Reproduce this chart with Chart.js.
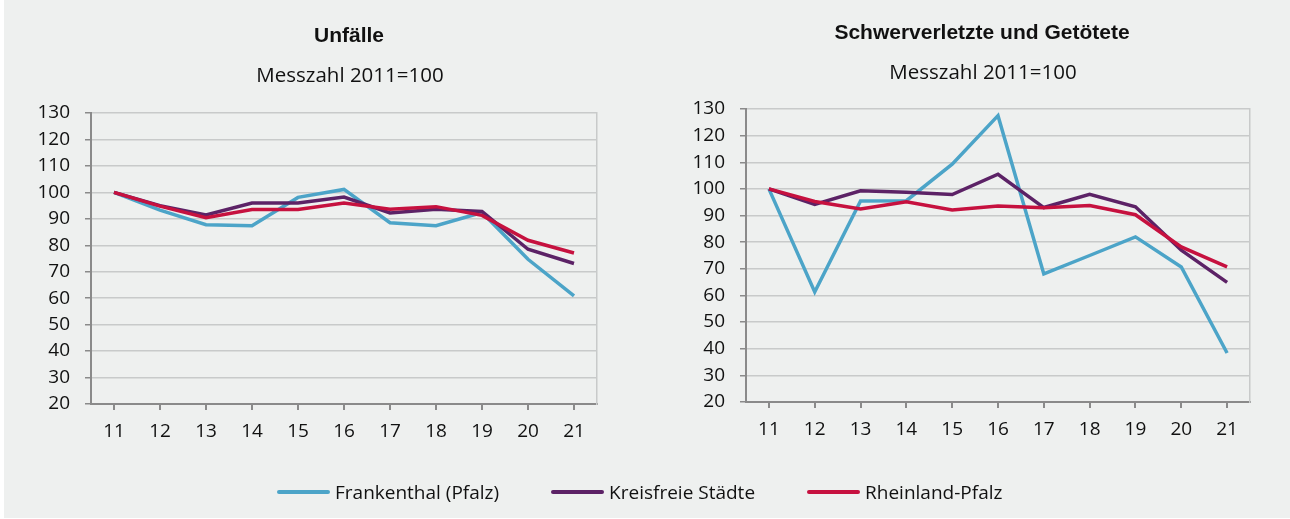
<!DOCTYPE html>
<html lang="de">
<head>
    <meta charset="UTF-8">
    <title>Unfälle / Schwerverletzte und Getötete</title>
    <script src="https://cdn.jsdelivr.net/npm/chart.js"></script>
    <style>
        body { margin: 0; background: #fff; }
        #box { position: absolute; left: 4px; top: 0; width: 1286px; height: 518px; background: #eef0ef; }
        canvas { position: absolute; top: 0; }
        .title { position: absolute; font-family: "Liberation Sans", Arial, sans-serif; font-weight: bold; font-size: 21px; color: #111; transform: translateX(-50%); white-space: nowrap; }
        .sub { position: absolute; font-family: "Open Sans", sans-serif; font-size: 20.5px; color: #111; transform: translateX(-50%); white-space: nowrap; }
        #legend { position: absolute; left: 277px; top: 479px; display: flex; align-items: center; font-family: "Open Sans", sans-serif; font-size: 19px; color: #111; }
        #legend span.sw { display: inline-block; width: 53px; height: 4px; border-radius: 2px; margin-right: 5px; }
        #legend .item { display: flex; align-items: center; margin-right: 52px; }
    </style>
</head>
<body>
<div id="box"></div>
<canvas id="left" width="645" height="519" style="left:0"></canvas>
<canvas id="right" width="645" height="519" style="left:645px"></canvas>
<div class="title" style="left:349px; top:23px">Unfälle</div>
<div class="sub" style="left:350px; top:60px">Messzahl 2011=100</div>
<div class="title" style="left:982px; top:20px">Schwerverletzte und Getötete</div>
<div class="sub" style="left:983px; top:57px">Messzahl 2011=100</div>
<div id="legend"></div>
<script>
    const years = ['11', '12', '13', '14', '15', '16', '17', '18', '19', '20', '21'];
    const seriesNames = ['Frankenthal (Pfalz)', 'Kreisfreie Städte', 'Rheinland-Pfalz'];
    const seriesColors = ['#4ca4c8', '#5c2266', '#c6113f'];

    // Unfälle
    const unfFrankenthal = [100, 93.3, 87.8, 87.4, 98.1, 101.1, 88.5, 87.4, 92.4, 74.7, 60.9];
    const unfKreisfrei   = [100, 95.0, 91.5, 96.0, 96.0, 98.2, 92.2, 93.6, 92.8, 78.5, 73.1];
    const unfRlp         = [100, 94.8, 90.4, 93.5, 93.5, 96.0, 93.6, 94.6, 91.3, 81.9, 77.1];

    // Schwerverletzte und Getötete
    const svgFrankenthal = [100, 61.3, 95.5, 95.6, 109.3, 127.5, 68.1, 75.0, 82.0, 70.7, 38.4];
    const svgKreisfrei   = [100, 94.2, 99.3, 98.7, 97.9, 105.5, 93.0, 98.0, 93.3, 77.0, 64.9];
    const svgRlp         = [100, 95.3, 92.5, 95.2, 92.1, 93.6, 92.9, 93.8, 90.3, 78.2, 70.7];

    const yMin = 20, yMax = 130, yStep = 10;

    const axisGray = '#8a8a8a';
    const gridGray = '#c8caca';
    const tickFont = { family: 'Open Sans', size: 19 };

    function makeChart(id, values, pad) {
        const datasets = values.map((v, i) => ({
            label: seriesNames[i],
            data: v,
            borderColor: seriesColors[i],
            backgroundColor: seriesColors[i],
            borderWidth: 3.5,
            pointRadius: 0,
            tension: 0
        })).reverse();

        return new Chart(document.getElementById(id), {
            type: 'line',
            data: { labels: years, datasets: datasets },
            options: {
                responsive: false,
                animation: false,
                layout: { padding: pad },
                plugins: { legend: { display: false }, tooltip: { enabled: false } },
                scales: {
                    x: {
                        offset: true,
                        afterFit: s => { s.height = 40; },
                        grid: { drawOnChartArea: false, drawTicks: true, tickLength: 6, tickColor: axisGray, lineWidth: 2 },
                        border: { color: axisGray, width: 2 },
                        ticks: { color: '#111', font: tickFont, padding: 10, maxRotation: 0 }
                    },
                    y: {
                        min: yMin,
                        max: yMax,
                        afterFit: s => { s.width = 60; },
                        grid: { color: gridGray, lineWidth: 1.5, tickLength: 6, tickColor: axisGray },
                        border: { color: axisGray, width: 2 },
                        ticks: { stepSize: yStep, color: '#111', font: tickFont, padding: 15 }
                    },
                    y2: {
                        position: 'right',
                        min: yMin,
                        max: yMax,
                        afterFit: s => { s.width = 0; },
                        grid: { drawOnChartArea: false, drawTicks: false },
                        border: { color: gridGray, width: 1.5 },
                        ticks: { display: false }
                    }
                }
            }
        });
    }

    makeChart('left', [unfFrankenthal, unfKreisfrei, unfRlp], { left: 31, right: 48, top: 113, bottom: 75 });
    makeChart('right', [svgFrankenthal, svgKreisfrei, svgRlp], { left: 41, right: 40, top: 109, bottom: 77 });

    const legend = document.getElementById('legend');
    seriesNames.forEach((name, i) => {
        const item = document.createElement('div');
        item.className = 'item';
        const sw = document.createElement('span');
        sw.className = 'sw';
        sw.style.background = seriesColors[i];
        item.appendChild(sw);
        item.appendChild(document.createTextNode(name));
        legend.appendChild(item);
    });
</script>
</body>
</html>
